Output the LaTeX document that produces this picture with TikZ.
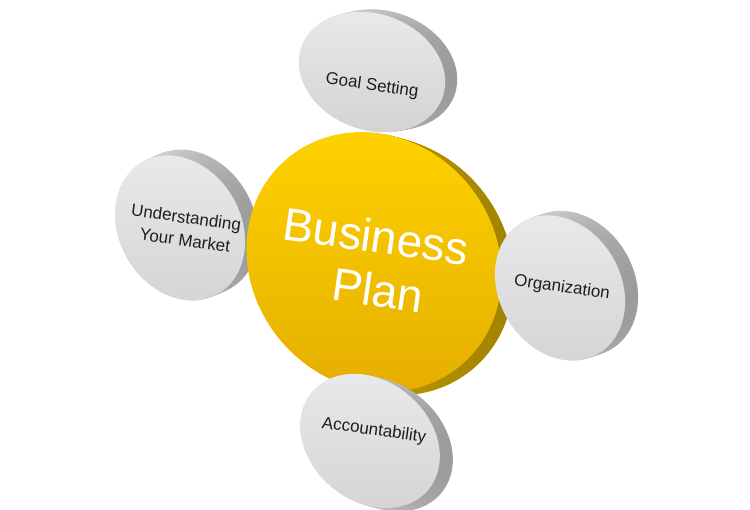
\documentclass[tikz,border=0pt]{standalone}
\usepackage{fontspec}
\setmainfont{Liberation Sans}
\usetikzlibrary{shapes.geometric}

\definecolor{facetop}{RGB}{234,234,236}
\definecolor{facebottom}{RGB}{212,212,214}
\definecolor{sidelight}{RGB}{236,236,236}
\definecolor{sidedark}{RGB}{150,150,152}
\definecolor{plantop}{RGB}{255,212,0}
\definecolor{planbottom}{RGB}{228,172,0}
\definecolor{planedge}{RGB}{160,128,0}
\definecolor{planedgelight}{RGB}{210,172,0}
\definecolor{textgrey}{RGB}{30,30,30}

\tikzset{
    disc/.style={ellipse, inner sep=0pt, minimum width=152pt, minimum height=122pt},
    greyface/.style={disc, top color=facetop, bottom color=facebottom},
    greyside/.style={disc, left color=sidelight, right color=sidedark},
    planface/.style={disc, minimum width=270pt, minimum height=244pt,
        top color=plantop, bottom color=planbottom},
    planside/.style={disc, minimum width=270pt, minimum height=244pt,
        left color=planedgelight, right color=planedge},
    disctext/.style={font=\fontsize{17}{20}\selectfont, text=textgrey,
        inner sep=1pt, rotate=-8},
    plantext/.style={font=\fontsize{46}{55}\selectfont, text=white,
        inner sep=1pt, rotate=-8},
}

\begin{document}
\begin{tikzpicture}[x=1pt, y=-1pt]
    \useasboundingbox (0,0) rectangle (750,510);

    % understanding your market
    \foreach \k in {13,...,1}
        \node[greyside, rotate=-60] at ({180+\k},{228-0.45*\k}) {};
    \node[greyface, rotate=-60] (market) at (180,228) {};
    \node[disctext] (market1) at (186,219) {Understanding};
    \node[disctext] (market2) at (185,240) {Your Market};

    % business plan
    \foreach \k in {12,...,1}
        \node[planside, rotate=-50] at ({374+\k},{262+0.3*\k}) {};
    \node[planface, rotate=-50] (plan) at (374,262) {};
    \node[plantext] (plan1) at (376,236) {Business};
    \node[plantext] (plan2) at (378,290) {Plan};

    % goal setting
    \foreach \k in {12,...,1}
        \node[greyside, minimum width=150pt, minimum height=116pt, rotate=-20]
            at ({372+\k},{72-0.2*\k}) {};
    \node[greyface, minimum width=150pt, minimum height=116pt, rotate=-20] (goal) at (372,72) {};
    \node[disctext] at (372,86) {Goal Setting};

    % organization
    \foreach \k in {13,...,1}
        \node[greyside, rotate=-60] at ({560+\k},{288-0.35*\k}) {};
    \node[greyface, rotate=-60] (organization) at (560,288) {};
    \node[disctext] at (562,288) {Organization};

    % accountability
    \foreach \k in {13,...,1}
        \node[greyside, minimum height=120pt, rotate=-40] at ({370+\k},{441+0.25*\k}) {};
    \node[greyface, minimum height=120pt, rotate=-40] (accountability) at (370,441) {};
    \node[disctext] at (374,431) {Accountability};
\end{tikzpicture}
\end{document}
